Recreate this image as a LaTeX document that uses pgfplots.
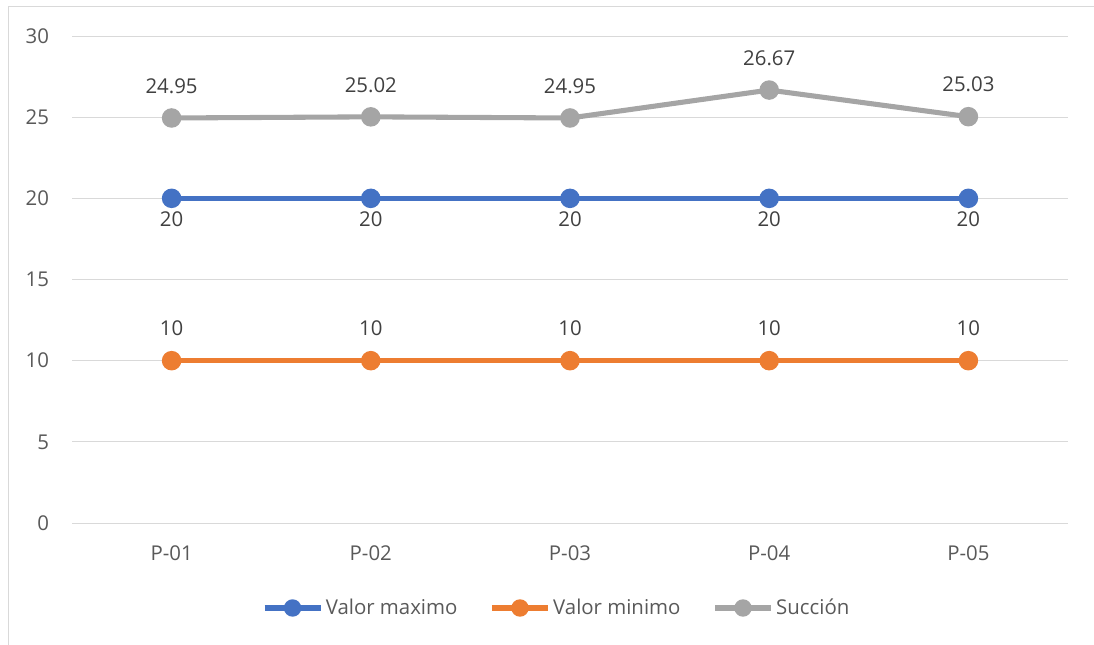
\documentclass[border=0pt]{standalone}
\usepackage{pgfplots}
\pgfplotsset{compat=1.18}
\usepackage{fontspec}
\setmainfont{Open Sans}
\definecolor{cmax}{HTML}{4472C4}
\definecolor{cmin}{HTML}{ED7D31}
\definecolor{csuc}{HTML}{A5A5A5}
\definecolor{cgrid}{HTML}{D9D9D9}
\definecolor{ctxt}{HTML}{595959}
\definecolor{clab}{HTML}{404040}
\newcommand{\chartfont}{\fontsize{15.3pt}{18pt}\selectfont}

\begin{document}
\begin{tikzpicture}
\useasboundingbox (0,0) rectangle (820.5pt,483pt);
% chart frame: only left and top edges fall inside the picture
\draw[cgrid, line width=0.75pt] (6pt,-5pt) -- (6pt,477.75pt) -- (830pt,477.75pt);
\begin{axis}[
  at={(54pt,90.75pt)}, anchor=south west,
  scale only axis, width=747pt, height=365.25pt,
  xmin=-0.5, xmax=4.5, ymin=0, ymax=30,
  xtick={0,...,4}, xticklabels={P-01,P-02,P-03,P-04,P-05},
  ytick={0,5,...,30},
  axis line style={draw=none},
  tick style={draw=none},
  ymajorgrids, grid style={cgrid, line width=0.75pt},
  ticklabel style={font=\chartfont, text=ctxt},
  yticklabel style={anchor=east, inner sep=0pt, xshift=-17pt},
  xticklabel style={anchor=center, inner sep=0pt, yshift=-22.5pt},
  /pgf/number format/assume math mode=true,
  clip=false,
  nodes near coords,
  point meta=explicit symbolic,
  every node near coord/.append style={font=\chartfont, text=clab, anchor=center, inner sep=0pt},
  legend style={at={(0.487,-0.1745)}, anchor=center, draw=none, fill=none,
    legend columns=3, font=\chartfont, text=ctxt,
    /tikz/every even column/.append style={column sep=22pt},
    nodes={inner xsep=2pt}},
  legend cell align=left,
  legend image code/.code={\draw[#1, mark size=4.6pt, mark repeat=2, mark phase=2]
    plot coordinates {(0pt,0pt) (21pt,0pt) (42pt,0pt)};},
]
\addplot[cmax, line width=3.8pt, mark=*, mark size=5.4pt, mark options={draw=none, fill=cmax},
  every node near coord/.append style={yshift=-16pt}]
  coordinates {(0,20) [20] (1,20) [20] (2,20) [20] (3,20) [20] (4,20) [20]};
\addlegendentry{Valor maximo}
\addplot[cmin, line width=3.8pt, mark=*, mark size=5.4pt, mark options={draw=none, fill=cmin},
  every node near coord/.append style={yshift=24pt}]
  coordinates {(0,10) [10] (1,10) [10] (2,10) [10] (3,10) [10] (4,10) [10]};
\addlegendentry{Valor minimo}
\addplot[csuc, line width=3.8pt, mark=*, mark size=5.4pt, mark options={draw=none, fill=csuc},
  every node near coord/.append style={yshift=24pt}]
  coordinates {(0,24.95) [24.95] (1,25.02) [25.02] (2,24.95) [24.95] (3,26.67) [26.67] (4,25.03) [25.03]};
\addlegendentry{Succión}
\end{axis}
\end{tikzpicture}
\end{document}
